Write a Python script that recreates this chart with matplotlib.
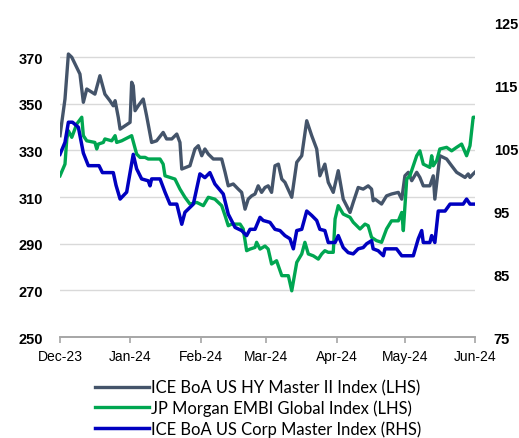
import matplotlib
matplotlib.use("Agg")
import matplotlib.pyplot as plt
import matplotlib.dates as mdates
import numpy as np
import pandas as pd

# dates are given as day offsets from 1 Dec 2023
start = pd.Timestamp("2023-12-01")

hy_days = [0, 2.2, 3.7, 5.2, 8.8, 10.3, 11.8, 15.4, 17.6, 19.8, 22, 23.5, 24.3, 25.7, 26.5,
           30.9, 31.6, 32.3, 33.1, 34.5, 36.7, 38.2, 40.4, 42.6, 45.5, 47, 49.3, 51.5, 52.9,
           53.7, 57.3, 59.5, 61, 62.5, 63.9, 65.4, 67.6, 71.3, 72.8, 74.2, 76.4, 78.6, 80.1,
           81.6, 83, 84.5, 86, 87.4, 88.9, 90.4, 91.8, 93.3, 94.8, 96.3, 97.8, 99.2, 102.2,
           104.4, 106.6, 108.8, 111, 113.2, 114.6, 116.8, 118.3, 120.5, 122.7, 124.9, 127.9,
           129.3, 131.5, 133.7, 135.9, 137.4, 138.1, 138.9, 141.8, 144, 146.2, 149.2, 150.7,
           152.1, 153.6, 155.1, 157.3, 158.7, 160.2, 163.1, 164.6, 165.3, 167.5, 170.5, 172.7,
           174.9, 178.6, 180, 180.8, 182.2, 183.7]
hy_vals = [336.3, 352, 371.3, 369.9, 362.7, 350.6, 356.3, 354.1, 362, 354.1, 351.3, 349.1, 351.3,
           344.2, 339.1, 342, 359.2, 357.7, 347, 349.1, 352, 344.8, 333.4, 334.1, 337.7, 334.9,
           334.9, 337, 333.4, 322, 323.4, 330.6, 332, 327.7, 330.6, 328.4, 326.3, 326.3, 320.6,
           314.8, 315.6, 313.4, 312, 304.8, 309.1, 310.5, 311.3, 314.8, 312, 314.1, 314.8, 312,
           323.4, 324.1, 317.7, 316.3, 309.9, 324.9, 327.7, 342.7, 336.3, 330.6, 319.1, 324.1,
           316.3, 312, 321.3, 309.1, 303.4, 307.7, 314.1, 313.4, 314.8, 313.4, 308.4, 309.1,
           307, 310.5, 311.3, 312, 309.1, 319.1, 320.6, 317, 320.6, 318.4, 314.8, 314.8, 319.1,
           309.1, 327.7, 326.3, 323.4, 320.6, 318.4, 319.9, 318.4, 319.9, 321.3]

embi_days = [0, 2.2, 3, 3.7, 5.2, 7.4, 9.6, 10.3, 11.8, 15.4, 16.2, 16.9, 19.1, 19.8, 22.8, 24.3,
             25, 27.2, 31.6, 33.8, 35.3, 37.5, 38.9, 44.1, 45.5, 46.3, 50.7, 52.9, 55.1, 57.3,
             60.3, 63.2, 65.4, 68.3, 71.3, 72.8, 74.2, 75.7, 79.4, 80.8, 82.3, 83.8, 86, 86.7,
             88.2, 90.4, 91.8, 93.3, 95.5, 97.8, 100.7, 102.2, 104.4, 106.6, 108, 109.5, 111.7,
             113.9, 115.4, 116.8, 118.3, 120.5, 121.3, 122.7, 124.9, 127.9, 129.3, 132.3, 134.5,
             135.9, 137.4, 139.6, 141.8, 144, 146.2, 149.2, 150.7, 151.4, 152.9, 154.3, 157.3,
             158.7, 160.2, 163.1, 163.9, 164.6, 166.1, 167.5, 170.5, 172.7, 174.9, 177.1, 179.3,
             180.8, 182.2, 183.7]
embi_vals = [319.1, 324.1, 334.9, 338.4, 335.6, 341.3, 344.2, 336.3, 334.1, 333.4, 330.6, 332.7,
             333.4, 334.9, 334.1, 336.3, 333.4, 334.1, 336.3, 328.4, 327, 327, 326.3, 326.3,
             324.1, 319.1, 317.7, 313.4, 309.9, 307, 307.7, 306.3, 309.9, 309.1, 306.3, 302,
             297.7, 298.4, 298.4, 296.3, 287, 287.7, 288.4, 290.6, 287.7, 289, 287.7, 281.3,
             282.7, 276.3, 276.3, 269.8, 282, 285.6, 290.6, 285.6, 284.8, 283.4, 285.6, 287,
             286.3, 286.3, 300.6, 306.3, 302.7, 301.3, 299.2, 296.3, 298.4, 297.7, 292.7, 291.3,
             290.6, 296.3, 299.8, 299.8, 303.4, 295.6, 317.7, 319.1, 327.7, 329.8, 324.1, 322.7,
             327.7, 323.4, 325.6, 330.6, 331.3, 329.8, 331.3, 332.7, 327.7, 332, 344.2, 344.2]

corp_days = [0, 2.2, 3.7, 5.5, 8.1, 10.3, 12.5, 17.2, 18.7, 23.5, 24.7, 26.5, 29.4, 30.9, 32.3,
             33.8, 36, 38.9, 39.7, 40.4, 44.1, 46.3, 48.5, 51.5, 53.7, 55.1, 58.8, 61.7, 63.9,
             66.1, 68.3, 72, 74.2, 77.2, 80.1, 82.3, 83.8, 86, 88.2, 89.6, 92.6, 94.8, 97, 99.2,
             101.4, 102.9, 104.4, 106.6, 108.8, 111, 113.2, 114.6, 116.8, 118.3, 121.3, 122.7,
             124.9, 127.1, 129.3, 131.5, 133.7, 135.2, 137.4, 138.1, 140.3, 142.6, 143.3, 148.4,
             150.7, 155.8, 158, 159.5, 160.2, 163.1, 163.9, 165.3, 166.8, 169.8, 172, 177.8,
             179.3, 180.8, 183.7]
corp_vals = [104.0, 105.9, 109.1, 109.1, 108.3, 104.2, 102.2, 102.2, 101.1, 101.1, 99.1, 96.9,
             98.0, 101.1, 104.0, 101.7, 100.1, 99.8, 99.0, 100.1, 100.1, 98.0, 96.1, 96.1, 92.9,
             94.8, 96.1, 100.9, 100.3, 101.1, 99.3, 97.7, 94.5, 92.4, 91.9, 91.1, 92.1, 92.1,
             94.0, 93.5, 93.2, 92.1, 91.9, 91.1, 90.6, 89.0, 91.9, 92.1, 95.0, 94.3, 93.5, 92.1,
             91.9, 90.0, 90.0, 91.1, 89.2, 88.4, 88.2, 89.0, 89.2, 89.8, 90.3, 89.0, 88.7, 87.9,
             89.0, 89.0, 87.9, 87.9, 90.6, 91.9, 90.0, 90.0, 91.1, 90.0, 95.0, 95.0, 96.1, 96.1,
             96.9, 96.1, 96.1]

labels = ["ICE BoA US HY Master II Index (LHS)",
          "JP Morgan EMBI Global Index (LHS)",
          "ICE BoA US Corp Master Index (RHS)"]
colors = ["#44546A", "#00A651", "#0000C0"]


def to_dates(days):
    return start + pd.to_timedelta(np.array(days), unit="D")


fig = plt.figure(figsize=(5.19, 4.39), dpi=100)
ax = fig.add_axes([0.1156, 0.230, 0.7996, 0.7175])
ax2 = ax.twinx()

l1, = ax.plot(to_dates(hy_days), hy_vals, color=colors[0], lw=2.4, label=labels[0])
l2, = ax.plot(to_dates(embi_days), embi_vals, color=colors[1], lw=2.4, label=labels[1])
l3, = ax2.plot(to_dates(corp_days), corp_vals, color=colors[2], lw=2.5, label=labels[2])

tick_font = dict(family=["Liberation Sans", "DejaVu Sans"], size=10.5, weight="bold")

ax.set_ylim(250, 385)
ax.set_yticks(np.arange(250, 371, 20))
ax.grid(axis="y", color="#d9d9d9", lw=1)
ax.set_axisbelow(True)
ax2.set_ylim(75, 125)
ax2.set_yticks(np.arange(75, 126, 10))

for a in (ax, ax2):
    for s in ("top", "left", "right"):
        a.spines[s].set_visible(False)
    a.spines["bottom"].set_color("#a6a6a6")
    a.spines["bottom"].set_linewidth(1.2)

ax.tick_params(axis="y", length=0, pad=12)
ax2.tick_params(axis="y", length=0, pad=13.5)
for lab in ax.get_yticklabels() + ax2.get_yticklabels():
    lab.set_fontproperties(matplotlib.font_manager.FontProperties(**tick_font))

ax.set_xlim(pd.Timestamp("2023-12-01"), pd.Timestamp("2024-06-01"))
ax.xaxis.set_major_locator(mdates.MonthLocator())
ax.xaxis.set_major_formatter(mdates.DateFormatter("%b-%y"))
ax.tick_params(axis="x", direction="out", length=4, width=1.2, color="#a6a6a6", pad=4.5)
for lab in ax.get_xticklabels():
    lab.set_fontproperties(matplotlib.font_manager.FontProperties(
        family=["Liberation Sans", "DejaVu Sans"], size=10))

# legend kept just inside the bottom edge so the last row stays readable
fig.legend(handles=[l1, l2, l3], loc="upper left", bbox_to_anchor=(0.183, 0.134),
           frameon=False, prop=dict(family="Lato", size=11.9), handlelength=3.25,
           handletextpad=0.15, labelspacing=0.26, borderaxespad=0, borderpad=0)

fig.savefig("out.png", dpi=100)
